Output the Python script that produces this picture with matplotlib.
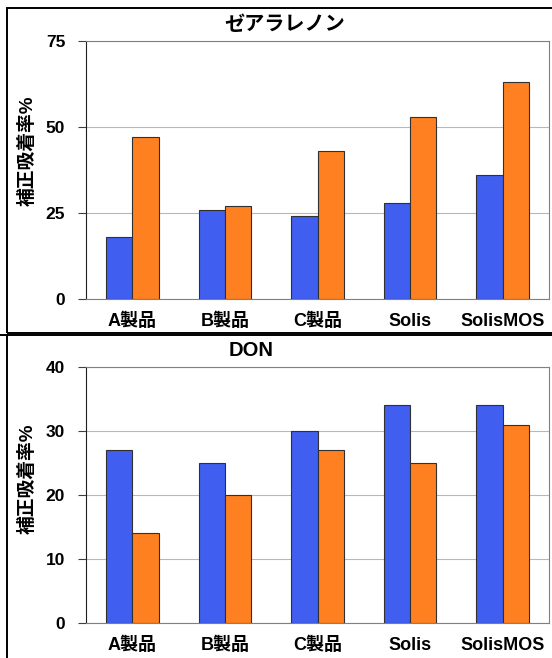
import matplotlib.pyplot as plt
import numpy as np
from matplotlib.patches import Rectangle
from matplotlib.lines import Line2D

categories = ['A製品', 'B製品', 'C製品', 'Solis', 'SolisMOS']
zea_blue = [18, 26, 24, 28, 36]
zea_orange = [47, 27, 43, 53, 63]
don_blue = [27, 25, 30, 34, 34]
don_orange = [14, 20, 27, 25, 31]
ylabel = '補正吸着率%'

plt.rcParams['font.family'] = ['Liberation Sans', 'Noto Sans CJK JP', 'DejaVu Sans']

W, H = 552, 658
fig = plt.figure(figsize=(W / 100, H / 100), dpi=100)

def px_axes(x0, y0, x1, y1):
    # pixel box (top-left origin) -> figure fraction
    return fig.add_axes([x0 / W, 1 - y1 / H, (x1 - x0) / W, (y1 - y0) / H])

BLUE = '#405EF0'
ORANGE = '#FF8020'

def panel(ax, blue, orange, ymax, step, title, title_xy, label_y):
    x = np.arange(len(categories))
    w = 0.285
    ax.bar(x - w / 2, blue, w, color=BLUE, edgecolor='#303030', linewidth=0.8, zorder=3)
    ax.bar(x + w / 2, orange, w, color=ORANGE, edgecolor='#303030', linewidth=0.8, zorder=3)
    ax.set_xlim(-0.5, len(categories) - 0.5)
    ax.set_ylim(0, ymax)
    ax.set_yticks(np.arange(0, ymax + 1, step))
    ax.set_xticks(x)
    ax.set_xticklabels(categories, fontsize=13, fontweight='bold')
    ax.tick_params(axis='x', length=0, pad=10)
    ax.tick_params(axis='y', length=6, width=0.8, color='#404040', pad=9,
                   labelsize=12.5)
    for t in ax.get_yticklabels():
        t.set_fontweight('bold')
    ax.yaxis.grid(True, color='#b8b8b8', linewidth=0.8, zorder=0)
    ax.set_axisbelow(True)
    ax.spines['left'].set_color('#202020')
    ax.spines['bottom'].set_color('#808080')
    ax.spines['top'].set_color('#808080')
    ax.spines['right'].set_color('#808080')
    fig.text(28 / W, 1 - label_y / H, ylabel, rotation=90, ha='center', va='center',
             fontsize=13.5, fontweight='bold')
    fig.text(title_xy[0] / W, 1 - title_xy[1] / H, title, ha='center', va='center',
             fontsize=14.5, fontweight='bold')

ax1 = px_axes(86, 41, 549, 299)
panel(ax1, zea_blue, zea_orange, 75, 25, 'ゼアラレノン', (285, 25), 151)

ax2 = px_axes(86, 367, 549, 623)
panel(ax2, don_blue, don_orange, 40, 10, 'DON', (251, 351), 479)

# outer frames
fig.add_artist(Rectangle((7 / W, 1 - 333 / H), 600 / W, 325 / H, transform=fig.transFigure,
                         fill=False, edgecolor='black', linewidth=1.4))
fig.add_artist(Line2D([0, 1], [1 - 335 / H] * 2, transform=fig.transFigure,
                      color='black', linewidth=1.4))
fig.add_artist(Line2D([7 / W] * 2, [0, 1 - 335 / H], transform=fig.transFigure,
                      color='black', linewidth=1.4))

plt.savefig('out.png', dpi=100)
